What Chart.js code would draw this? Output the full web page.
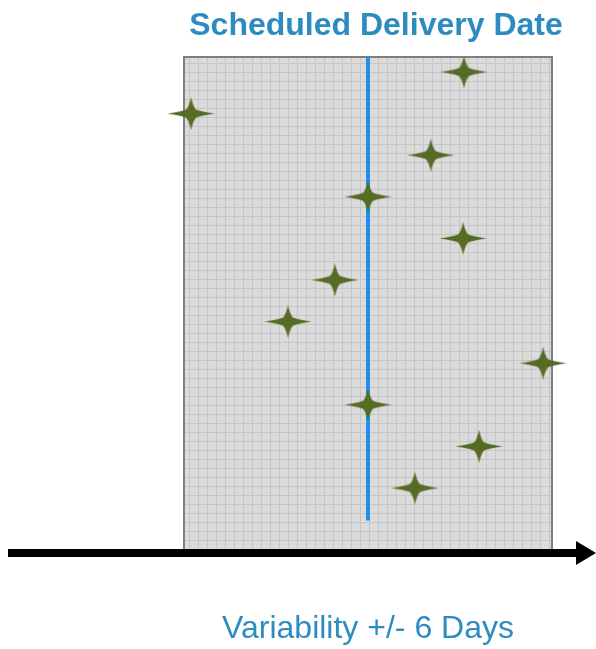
<!DOCTYPE html>
<html>
<head>
<meta charset="utf-8">
<script src="https://cdn.jsdelivr.net/npm/chart.js@4"></script>
<style>
  html, body { margin: 0; padding: 0; background: #fff; }
  #wrap { width: 596px; height: 649px; }
</style>
</head>
<body>
<div id="wrap"><canvas id="deliveryChart" width="596" height="649"></canvas></div>
<script>
// deviation from scheduled date, in days (top row first)
const deviations = [3.13, -5.77, 2.05, 0, 3.1, -1.08, -2.61, 5.71, 0, 3.62, 1.53];
const rows = [11, 10, 9, 8, 7, 6, 5, 4, 3, 2, 1];
const windowDays = [-6, 6];
const scheduledX = [0, 0];
const scheduledY = [11.36, 0.22];
const titleText = 'Scheduled Delivery Date';
const footText = 'Variability +/- 6 Days';

// four pointed star used as point style
function makeStar(w, h, color) {
  const c = document.createElement('canvas');
  c.width = w; c.height = h;
  const g = c.getContext('2d');
  const cx = w / 2, cy = h / 2, a = 5, b = 4;
  g.fillStyle = color;
  g.beginPath();
  g.moveTo(cx, 0);
  g.quadraticCurveTo(cx + 2, cy - 7, cx + a, cy - b);
  g.quadraticCurveTo(cx + 10, cy - 2, w, cy);
  g.quadraticCurveTo(cx + 10, cy + 2, cx + a, cy + b);
  g.quadraticCurveTo(cx + 2, cy + 7, cx, h);
  g.quadraticCurveTo(cx - 2, cy + 7, cx - a, cy + b);
  g.quadraticCurveTo(cx - 10, cy + 2, 0, cy);
  g.quadraticCurveTo(cx - 10, cy - 2, cx - a, cy - b);
  g.quadraticCurveTo(cx - 2, cy - 7, cx, 0);
  g.closePath();
  g.fill();
  return c;
}

// grey graph-paper fill
function makeGrid() {
  const n = 9;
  const c = document.createElement('canvas');
  c.width = n; c.height = n;
  const g = c.getContext('2d');
  g.fillStyle = '#e0e0e0';
  g.fillRect(0, 0, n, n);
  g.fillStyle = '#d6d6d6';
  for (let i = 0; i < n; i++) {
    for (let j = 0; j < n; j++) {
      if ((i + j) % 2 === 0) g.fillRect(i, j, 1, 1);
    }
  }
  g.fillStyle = '#c6c6c6';
  g.fillRect(0, 0, n, 1);
  g.fillRect(0, 0, 1, n);
  return c;
}

const starImg = makeStar(47, 33, '#566b26');

const decor = {
  id: 'decor',
  beforeDatasetsDraw(chart) {
    const { ctx, scales: { x, y } } = chart;
    const left = x.getPixelForValue(windowDays[0]);
    const right = x.getPixelForValue(windowDays[1]);
    const top = y.getPixelForValue(y.max);
    const bottom = y.getPixelForValue(y.min);
    ctx.save();
    ctx.fillStyle = ctx.createPattern(makeGrid(), 'repeat');
    ctx.fillRect(left, top, right - left, bottom - top);
    ctx.strokeStyle = '#7f7f7f';
    ctx.lineWidth = 2;
    ctx.strokeRect(left, top, right - left, bottom - top);
    ctx.restore();
  },
  afterDraw(chart) {
    const { ctx, scales: { x, y } } = chart;
    const axisY = y.getPixelForValue(y.min) + 3;
    ctx.save();
    // time axis arrow
    ctx.fillStyle = '#000';
    ctx.fillRect(8, axisY - 4, 572, 8);
    ctx.beginPath();
    ctx.moveTo(576, axisY - 12);
    ctx.lineTo(596, axisY);
    ctx.lineTo(576, axisY + 12);
    ctx.closePath();
    ctx.fill();
    // labels
    ctx.textAlign = 'center';
    ctx.textBaseline = 'alphabetic';
    ctx.fillStyle = '#2e8bc0';
    ctx.font = 'bold 32px "Liberation Sans", Arial, sans-serif';
    ctx.fillText(titleText, x.getPixelForValue(0) + 8, 35);
    ctx.font = '32px "Liberation Sans", Arial, sans-serif';
    ctx.fillText(footText, x.getPixelForValue(0), 638);
    ctx.restore();
  }
};

new Chart(document.getElementById('deliveryChart'), {
  type: 'scatter',
  data: {
    datasets: [{
      label: 'Scheduled',
      type: 'line',
      data: scheduledX.map((v, i) => ({ x: v, y: scheduledY[i] })),
      borderColor: '#1e90f0',
      borderWidth: 4,
      pointRadius: 0,
      order: 2
    }, {
      label: 'Deliveries',
      data: deviations.map((v, i) => ({ x: v, y: rows[i] })),
      pointStyle: starImg,
      pointRadius: 10,
      clip: false,
      order: 1
    }]
  },
  options: {
    responsive: false,
    animation: false,
    events: [],
    layout: {
      padding: { left: 184, right: 44, top: 57, bottom: 99 }
    },
    plugins: {
      legend: { display: false },
      tooltip: { enabled: false }
    },
    scales: {
      x: { type: 'linear', min: -6, max: 6, display: false },
      y: { type: 'linear', min: -0.49, max: 11.36, display: false }
    }
  },
  plugins: [decor]
});
</script>
</body>
</html>
